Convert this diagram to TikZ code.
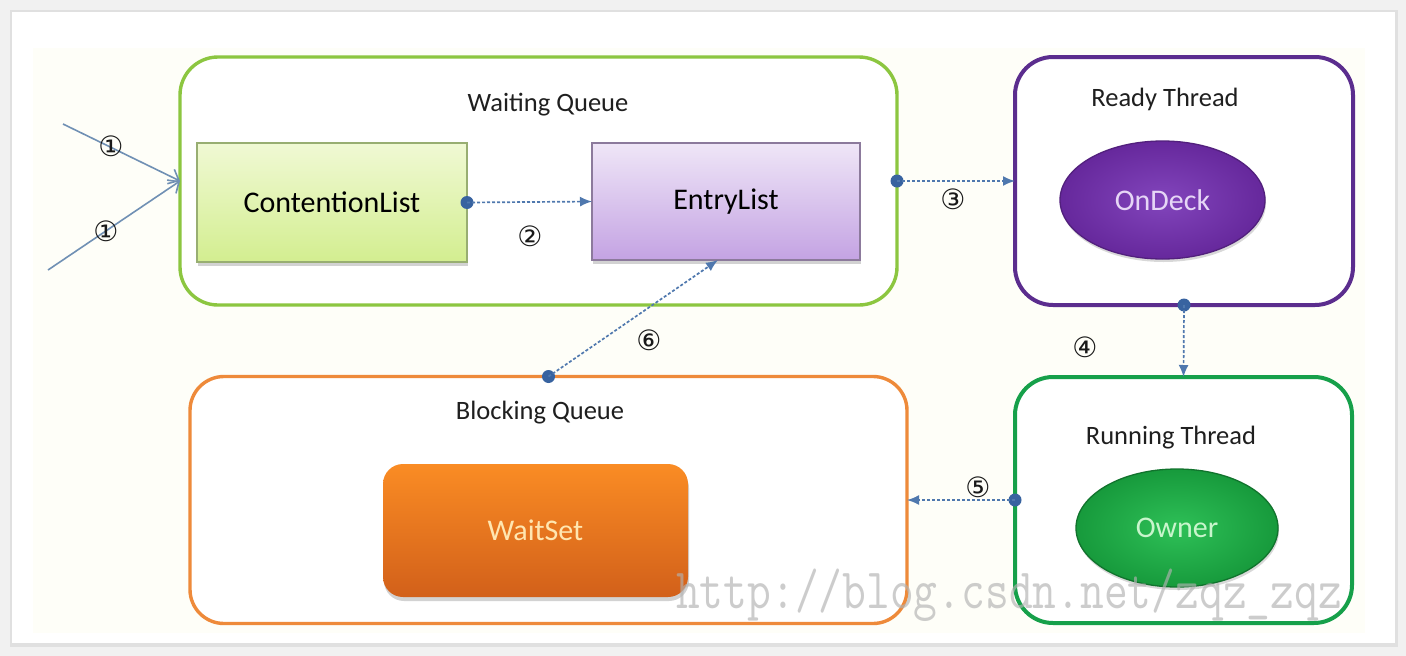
\documentclass[tikz,border=0pt]{standalone}
\usepackage{fontspec}
\setmainfont{Carlito}
\newfontfamily\circfont{DejaVu Sans}
\newfontfamily\wmfont[FakeStretch=0.81]{Latin Modern Mono}
\usetikzlibrary{arrows.meta,shadows,shapes.geometric,calc}
\definecolor{wqgreen}{HTML}{8CC640}
\definecolor{rtpurple}{HTML}{5B2D8E}
\definecolor{rungreen}{HTML}{16A04A}
\definecolor{bqorange}{HTML}{EE8A3A}
\definecolor{connblue}{HTML}{4F78AE}
\definecolor{dotblue}{HTML}{3863A0}
\definecolor{entryblue}{HTML}{7090B4}
\definecolor{cream}{HTML}{FEFEF8}
\definecolor{pagegray}{HTML}{F1F1F1}
\definecolor{cltop}{HTML}{F0F9D4}
\definecolor{clbot}{HTML}{D3EE90}
\definecolor{clline}{HTML}{98AE72}
\definecolor{eltop}{HTML}{EFE6F7}
\definecolor{elbot}{HTML}{C4A3E3}
\definecolor{elline}{HTML}{8C7A9C}
\definecolor{odin}{HTML}{8245BC}
\definecolor{odout}{HTML}{66289C}
\definecolor{odtext}{HTML}{E6D6F6}
\definecolor{owin}{HTML}{2EC057}
\definecolor{owout}{HTML}{179A3C}
\definecolor{owtext}{HTML}{C8F5CC}
\definecolor{wstop}{HTML}{FA8C24}
\definecolor{wsbot}{HTML}{D2601A}
\definecolor{wstext}{HTML}{FFE6B0}
\begin{document}
\begin{tikzpicture}[x=1pt,y=-1pt,
  container/.style={draw, line width=3.4pt, rounded corners=38pt, inner sep=0pt, outer sep=0pt, fill=white},
  title/.style={font=\fontsize{26.5}{30}\selectfont, text=black!88},
  inbox/.style={inner sep=0pt, outer sep=0pt, font=\fontsize{30}{34}\selectfont, line width=1.3pt,
    drop shadow={opacity=0.35, shadow xshift=1pt, shadow yshift=-4pt}},
  oval/.style={ellipse, inner sep=0pt, outer sep=0pt, line width=1.3pt, font=\fontsize{30}{34}\selectfont,
    drop shadow={opacity=0.3, shadow xshift=1pt, shadow yshift=-3pt}},
  conn/.style={draw=connblue, line width=1.7pt, dash pattern=on 3pt off 2pt, -{Latex[length=12pt,width=10pt]}},
  dot/.style={circle, fill=dotblue, minimum size=13pt, inner sep=0pt},
  num/.style={font=\circfont\fontsize{28}{28}\selectfont, inner sep=0pt, text=black!90},
  entry/.style={draw=entryblue, line width=1.6pt, -{Straight Barb[length=9pt,width=16pt]}},
]
\useasboundingbox (0,0) rectangle (1406,656);
% page and card
\fill[pagegray] (0,0) rectangle (1406,656);
\fill[black!12] (10,10) rectangle (1398,647);
\fill[white] (12,12) rectangle (1395,643);
\fill[cream] (33,48) rectangle (1365,633);

% containers
\node[container, draw=wqgreen, minimum width=717pt, minimum height=248pt] (wq) at (538.5,181) {};
\node[container, draw=rtpurple, line width=4pt, minimum width=338pt, minimum height=248pt] (rt) at (1184,181) {};
\node[container, draw=rungreen, line width=4pt, minimum width=337pt, minimum height=246pt] (run) at (1183.5,500) {};
\node[container, draw=bqorange, rounded corners=34pt, minimum width=717pt, minimum height=247pt] (bq) at (548.5,500) {};

% titles
\node[title] (wqt) at (548,105) {Waiting Queue};
\node[title] (rtt) at (1165,99) {Ready Thread};
\node[title] (runt) at (1171,438) {Running Thread};
\node[title] (bqt) at (540,413) {Blocking Queue};

% inner boxes
\node[inbox, draw=clline, top color=cltop, bottom color=clbot,
  minimum width=270pt, minimum height=119pt] (cl) at (332,202.5) {ContentionList};
\node[inbox, draw=elline, top color=eltop, bottom color=elbot,
  minimum width=268pt, minimum height=117pt] (el) at (726,201.5) {EntryList};
\node[oval, draw=odout!80!black, inner color=odin, outer color=odout, text=odtext,
  minimum width=205pt, minimum height=118pt] (od) at (1162.5,200) {OnDeck};
\node[oval, draw=owout!75!black, inner color=owin, outer color=owout, text=owtext,
  minimum width=202pt, minimum height=118pt] (ow) at (1177,528) {Owner};
\node[inbox, rounded corners=20pt, draw=none, top color=wstop, bottom color=wsbot,
  text=wstext, minimum width=305pt, minimum height=133pt] (ws) at (535.5,530.5) {WaitSet};

% entry arrows (1)
\coordinate (s1) at (63,124);
\coordinate (s2) at (48,270);
\draw[entry] (s1) -- (wq.west);
\draw[entry] (s2) -- (wq.west);
\node[num] (n1a) at (111,146) {①};
\node[num] (n1b) at (106,231) {①};

% (2)
\node[dot] (d2) at (cl.east) {};
\draw[conn] (d2.center) -- (el.west);
\node[num] (n2) at (530,236) {②};

% (3)
\node[dot] (d3) at (wq.east) {};
\draw[conn] (d3.center) -- (rt.west);
\node[num] (n3) at (953,199) {③};

% (4)
\node[dot] (d4) at (rt.south) {};
\draw[conn] (d4.center) -- (run.north);
\node[num] (n4) at (1085,347) {④};

% (5)
\node[dot] (d5) at (run.west) {};
\draw[conn] (d5.center) -- (bq.east);
\node[num] (n5) at (978,487) {⑤};

% (6)
\node[dot] (d6) at (bq.north) {};
\coordinate (t6) at ($(el.south)+(-8,0)$);
\draw[conn] (d6.center) -- (t6);
\node[num] (n6) at (649,340) {⑥};

% watermark
\node[anchor=base west, inner sep=0pt, text=black!30, opacity=0.65,
  font=\wmfont\fontsize{57}{57}\selectfont] (wm) at (676,608) {http://blog.csdn.net/zqz\_zqz};
\end{tikzpicture}
\end{document}
